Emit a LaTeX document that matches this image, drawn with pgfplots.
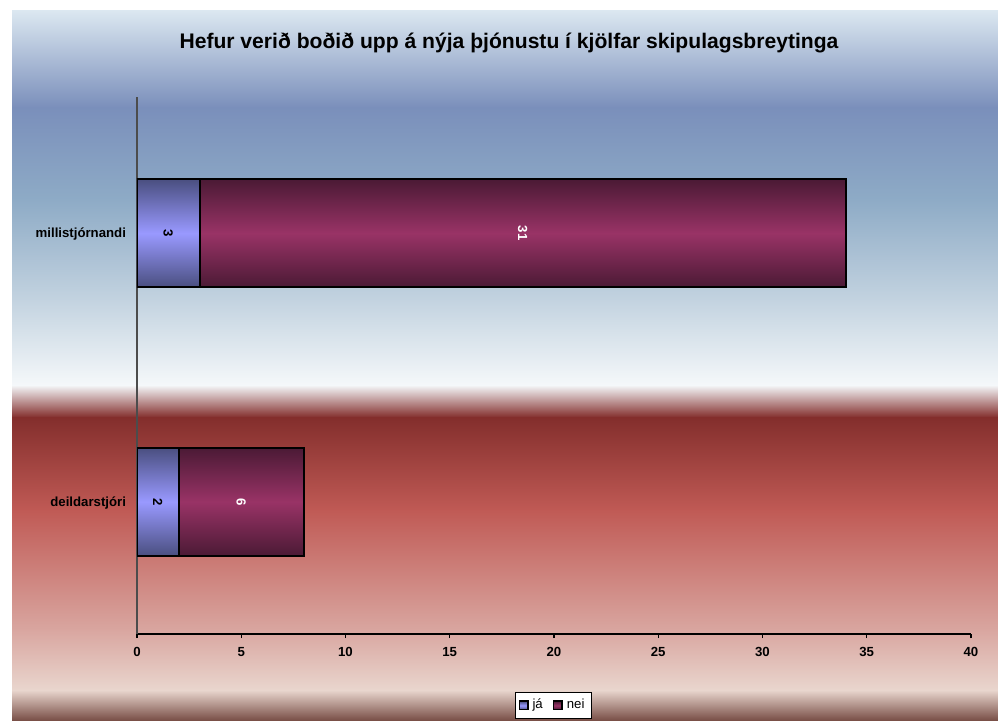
\documentclass[border=0pt]{standalone}
\usepackage{pgfplots}
\pgfplotsset{compat=1.18}
\usepackage{fontspec}
\setmainfont{Liberation Sans}
\definecolor{bg1}{HTML}{DCE8F1}
\definecolor{bg2}{HTML}{7A8FBB}
\definecolor{bg3}{HTML}{8EABC6}
\definecolor{bg4}{HTML}{C3D3E0}
\definecolor{bg5}{HTML}{F5F8FA}
\definecolor{bg6}{HTML}{832E2C}
\definecolor{bg7}{HTML}{C05A55}
\definecolor{bg8}{HTML}{D9A6A0}
\definecolor{bg9}{HTML}{E9D6CE}
\definecolor{bg10}{HTML}{7A5048}
\definecolor{blueedge}{HTML}{4A4F80}
\definecolor{bluemid}{HTML}{9999FF}
\definecolor{puredge}{HTML}{4B1A35}
\definecolor{purmid}{HTML}{993366}
\pgfplotsset{
  common/.style={at={(68.5pt,-317pt)}, anchor=south west,
    scale only axis, width=417pt, height=268.5pt,
    xmin=0, xmax=40, ymin=-0.5, ymax=1.5},
  jabar/.style={draw=black, line width=1pt, top color=blueedge, bottom color=blueedge, middle color=bluemid},
  neibar/.style={draw=black, line width=1pt, top color=puredge, bottom color=puredge, middle color=purmid},
}
\begin{document}
\begin{tikzpicture}
\begin{scope}[x=0.5pt,y=-0.5pt]
\useasboundingbox (0,0) rectangle (998,720);
\fill[white] (0,0) rectangle (998,720);
\shade[top color=bg1,bottom color=bg2] (12,10) rectangle (998,107.5);
\shade[top color=bg2,bottom color=bg3] (12,107) rectangle (998,200.5);
\shade[top color=bg3,bottom color=bg4] (12,200) rectangle (998,300.5);
\shade[top color=bg4,bottom color=bg5] (12,300) rectangle (998,385.5);
\shade[top color=bg5,bottom color=bg6] (12,385) rectangle (998,417.5);
\shade[top color=bg6,bottom color=bg7] (12,417) rectangle (998,510.5);
\shade[top color=bg7,bottom color=bg8] (12,510) rectangle (998,630.5);
\shade[top color=bg8,bottom color=bg9] (12,630) rectangle (998,690.5);
\shade[top color=bg9,bottom color=bg10] (12,690) rectangle (998,720);
\node[font=\bfseries\fontsize{10.55}{12}\selectfont] at (509,43) {Hefur verið boðið upp á nýja þjónustu í kjölfar skipulagsbreytinga};
\end{scope}
% main axis: millistjórnandi bars, axis lines, ticks and legend
\begin{axis}[common,
  xbar stacked, bar width=54pt, bar shift=-1pt,
  xtick={0,5,...,40},
  ytick={0,1}, yticklabels={deildarstjóri,millistjórnandi},
  axis x line=bottom, axis y line=left,
  x axis line style={-,black,line width=0.6pt},
  y axis line style={-,black!70,line width=0.6pt},
  x tick style={black,line width=0.6pt},
  y tick style={draw=none},
  tick align=outside, major tick length=2pt,
  /pgf/number format/assume math mode=true,
  ticklabel style={font=\bfseries\fontsize{6.6}{7.5}\selectfont},
  xticklabel style={yshift=-1.3pt},
  yticklabel style={xshift=0pt, yshift=-1.5pt},
  legend style={at={(0.4994,-0.1331)}, anchor=center, legend columns=2,
    draw=black, fill=white, line width=0.5pt, font=\fontsize{6.6}{7.5}\selectfont,
    inner xsep=1.5pt, inner ysep=1.5pt,
    /tikz/every even column/.append style={column sep=3pt}},
  legend cell align=left,
]
\addplot[jabar,
  legend image code/.code={\draw[fill=bluemid,draw=black,line width=0.8pt] (0pt,-2.1pt) rectangle (4.2pt,2.1pt);}]
  coordinates {(3,1)};
\addlegendentry{já}
\addplot[neibar,
  legend image code/.code={\draw[fill=purmid,draw=black,line width=0.8pt] (0pt,-2.1pt) rectangle (4.2pt,2.1pt);}]
  coordinates {(31,1)};
\addlegendentry{nei}
\end{axis}
% deildarstjóri bars
\begin{axis}[common, hide axis, xbar stacked, bar width=54pt, bar shift=-1pt]
\addplot[jabar] coordinates {(2,0)};
\addplot[neibar] coordinates {(6,0)};
\end{axis}
% data labels in the middle of each segment
\begin{axis}[common, hide axis]
\addplot[only marks, mark=none, nodes near coords, point meta=explicit symbolic,
  every node near coord/.style={anchor=center, yshift=-1pt, rotate=-90, text=black, font=\bfseries\fontsize{6.6}{7.5}\selectfont}]
  coordinates {(1.5,1) [3] (1,0) [2]};
\addplot[only marks, mark=none, nodes near coords, point meta=explicit symbolic,
  every node near coord/.style={anchor=center, yshift=-1pt, rotate=-90, text=white, font=\bfseries\fontsize{6.6}{7.5}\selectfont}]
  coordinates {(18.5,1) [31] (5,0) [6]};
\end{axis}
\end{tikzpicture}
\end{document}
